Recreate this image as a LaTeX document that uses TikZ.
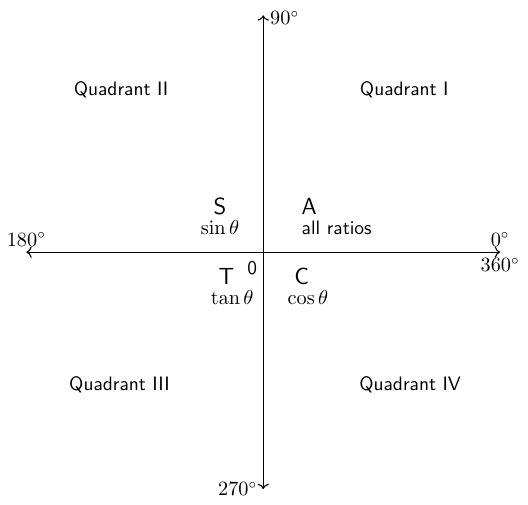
\documentclass[tikz,border=0pt]{standalone}
\usepackage{amssymb}
\usepackage{amsmath}
\usepackage{tikz}
\usetikzlibrary{arrows.meta}
\tikzset{every node/.style={font=\fontsize{10.5pt}{12.6pt}\selectfont}}
\tikzset{quadlabel/.style={font=\fontsize{10.5pt}{12.6pt}\selectfont\sffamily}}
\tikzset{ratioletter/.style={font=\fontsize{12.6pt}{15pt}\selectfont\sffamily, inner sep=0pt}}
\tikzset{ratiotext/.style={inner sep=0pt}}
\begin{document}
\begin{tikzpicture}[line width=0.6pt]
    \useasboundingbox (-5.0,-4.79) rectangle (5.03,4.79);
    \coordinate (O) at (0, 0);
    \coordinate (E) at (4.5, 0);
    \coordinate (W) at (-4.5, 0);
    \coordinate (N) at (0, 4.5);
    \coordinate (S) at (0, -4.5);

    \draw[->] (O) -- (E);
    \draw[->] (O) -- (W);
    \draw[->] (O) -- (N);
    \draw[->] (O) -- (S);

    \node[anchor=west, inner sep=3.5pt, yshift=-1.5pt] (deg90) at (N) {$90^\circ$};
    \node[anchor=south, inner sep=3pt] (deg180) at (W) {$180^\circ$};
    \node[anchor=south, inner sep=3pt] (deg0) at (E) {$0^\circ$};
    \node[anchor=north, inner sep=3pt] (deg360) at (E) {$360^\circ$};
    \node[anchor=east, inner sep=3pt] (deg270) at (S) {$270^\circ$};

    \node[quadlabel] (QI) at (2.68, 3.08)    {Quadrant I};
    \node[quadlabel] (QII) at (-2.70, 3.08)  {Quadrant II};
    \node[quadlabel] (QIII) at (-2.73, -2.51) {Quadrant III};
    \node[quadlabel] (QIV) at (2.79, -2.51)  {Quadrant IV};

    \node[ratioletter] (sinS) at (-0.82, 0.86)  {S};
    \node[ratiotext] (sinT) at (-0.82, 0.47)    {$\sin\theta$};
    \node[ratioletter, anchor=west] (allA) at (0.72, 0.86) {A};
    \node[ratiotext, anchor=west, font=\fontsize{10.5pt}{12.6pt}\selectfont\sffamily] (allT) at (0.72, 0.47) {all ratios};
    \node[ratioletter] (tanT) at (-0.70, -0.47) {T};
    \node[ratiotext] (tanL) at (-0.59, -0.87)   {$\tan\theta$};
    \node[ratioletter] (cosC) at (0.73, -0.47)  {C};
    \node[ratiotext] (cosL) at (0.85, -0.87)    {$\cos\theta$};
    \node[font=\fontsize{10.5pt}{12.6pt}\selectfont\sffamily, inner sep=0pt] (zero) at (-0.21, -0.30) {0};

\end{tikzpicture}
\end{document}
